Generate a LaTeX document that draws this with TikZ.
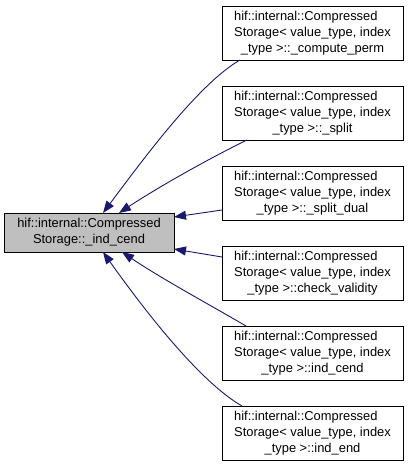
\documentclass[tikz,border=0pt]{standalone}
\usepackage{fontspec}
\setmainfont{Liberation Sans}
\usetikzlibrary{arrows.meta,calc}
\newcommand{\dlabthree}[3]{\begin{tabular}{@{}l@{}}#1\\#2\\\multicolumn{1}{@{}c@{}}{#3}\end{tabular}}
\newcommand{\dlabtwo}[2]{\begin{tabular}{@{}l@{}}#1\\\multicolumn{1}{@{}c@{}}{#2}\end{tabular}}
\definecolor{edgeblue}{HTML}{191970}
\definecolor{boxgray}{HTML}{BFBFBF}
\tikzset{
  dbox/.style={draw=black, line width=1pt, inner sep=0pt, outer sep=0pt, rectangle,
    font=\fontsize{12.9}{16.2}\selectfont},
  rbox/.style={dbox, fill=white, minimum width=181pt, minimum height=54pt},
  lbox/.style={dbox, fill=boxgray, minimum width=170pt, minimum height=39pt},
  dedge/.style={draw=edgeblue, line width=0.9pt, {Triangle[length=12pt,width=9pt,fill=edgeblue]}-}
}
\begin{document}
\begin{tikzpicture}[x=1pt,y=-1pt]
\useasboundingbox (0,0) rectangle (408,467);
\node[lbox] (L) at (89,232.5) {\dlabtwo{hif::internal::Compressed}{Storage::\_ind\_cend}};
\node[rbox] (R1) at (312.5,33) {\dlabthree{hif::internal::Compressed}{Storage< value\_type, index}{\_type >::\_compute\_perm}};
\node[rbox] (R2) at (312.5,113) {\dlabthree{hif::internal::Compressed}{Storage< value\_type, index}{\_type >::\_split}};
\node[rbox] (R3) at (312.5,193) {\dlabthree{hif::internal::Compressed}{Storage< value\_type, index}{\_type >::\_split\_dual}};
\node[rbox] (R4) at (312.5,273) {\dlabthree{hif::internal::Compressed}{Storage< value\_type, index}{\_type >::check\_validity}};
\node[rbox] (R5) at (312.5,353) {\dlabthree{hif::internal::Compressed}{Storage< value\_type, index}{\_type >::ind\_cend}};
\node[rbox] (R6) at (312.5,433) {\dlabthree{hif::internal::Compressed}{Storage< value\_type, index}{\_type >::ind\_end}};
\draw[dedge] ($(L.north west)+(99,0)$) .. controls (147,154) and (200,83) .. ($(R1.south west)+(18,0)$);
\draw[dedge] ($(L.north west)+(115,0)$) .. controls (160,186) and (212,157) .. ($(R2.south west)+(25,0)$);
\draw[dedge] ($(L.east)+(0,-15.5)$) -- ($(R3.west)+(0,17)$);
\draw[dedge] ($(L.east)+(0,16.5)$) -- ($(R4.west)+(0,-16)$);
\draw[dedge] ($(L.south west)+(118,0)$) .. controls (162,279) and (212,306) .. ($(R5.north west)+(24,0)$);
\draw[dedge] ($(L.south west)+(99,0)$) .. controls (145,311) and (200,382) .. ($(R6.north west)+(20,0)$);
\end{tikzpicture}
\end{document}
